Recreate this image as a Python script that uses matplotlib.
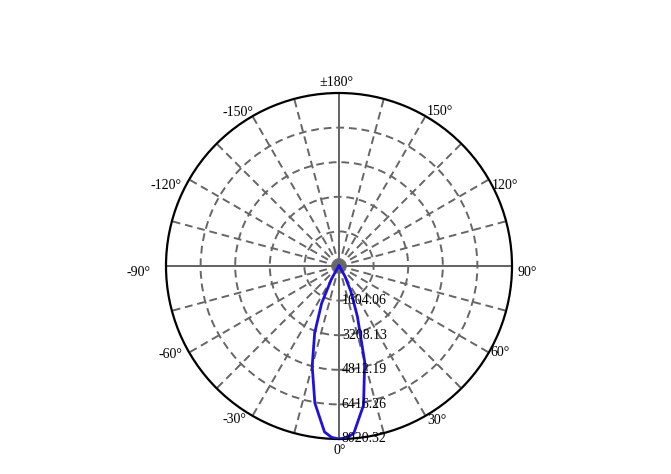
import numpy as np
import matplotlib
matplotlib.use("Agg")
import matplotlib.pyplot as plt

# light distribution, angle (deg) -> intensity
angles = [-180, -90, -45, -40, -35, -30, -25, -20, -15, -10, -5, -2.5, 0,
          2.5, 5, 10, 15, 20, 25, 30, 35, 40, 45, 90, 180]
intensity = [0, 0, 0, 20, 150, 700, 1900, 3300, 4800, 6450, 7720, 7950, 8020.32,
             7960, 7800, 6550, 4600, 2500, 1300, 550, 120, 20, 0, 0, 0]

r_max = 8020.32
r_ticks = [1604.06, 3208.13, 4812.19, 6416.26]
r_labels = ["1604.06", "3208.13", "4812.19", "6416.26", "8020.32"]
theta_grid = list(range(0, 360, 15))
theta_lab_pos = [0, 30, 60, 90, 120, 150, 180, 210, 240, 270, 300, 330]
theta_labels = ["0°", "30°", "60°", "90°", "120°", "150°",
                "±180°", "-150°", "-120°", "-90°", "-60°", "-30°"]
# label offsets from the rim, pixels (x right, y up)
lab_off = [(1, -12), (11, -5), (11, 0), (15, -6.5), (16, -6), (14.5, 4.5),
           (-3, 11), (-14.5, 4), (-23, -6), (-27, -7), (-18.5, -2), (-18, -4)]

plt.rcParams['font.family'] = ['Liberation Serif', 'DejaVu Serif']

fig = plt.figure(figsize=(6.71, 4.74), dpi=100)
ax = fig.add_axes([166 / 671, 35 / 474, 346 / 671, 346 / 474], projection='polar')
ax.set_theta_zero_location('S')
ax.set_theta_direction(1)

ax.set_ylim(0, r_max)
ax.set_yticks(r_ticks)
ax.set_yticklabels([])
ax.set_xticks(np.deg2rad(theta_grid))
ax.set_xticklabels([])
ax.grid(True, color='#666666', linestyle=(0, (4, 2.5)), linewidth=1.4)
ax.spines['polar'].set_color('black')
ax.spines['polar'].set_linewidth(1.6)

# main axes drawn solid
for a in [0, 90]:
    ax.plot(np.deg2rad([a, a + 180]), [r_max, r_max], color='#666666', lw=1.4)
    ax.plot(np.deg2rad([a, a]), [0, r_max], color='#666666', lw=1.4)
    ax.plot(np.deg2rad([a + 180, a + 180]), [0, r_max], color='#666666', lw=1.4)
ax.set_ylim(0, r_max)

th = np.deg2rad(angles)
ax.plot(th, intensity, color='#2010e0', lw=2, zorder=5)

for a, lab, off in zip(theta_lab_pos, theta_labels, lab_off):
    ax.annotate(lab, xy=(np.deg2rad(a), r_max), xytext=off, textcoords='offset pixels',
                ha='center', va='center', fontsize=10, annotation_clip=False)

# radial labels along the 0° direction
for r, lab in zip(r_ticks + [r_max], r_labels):
    ax.annotate(lab, xy=(0, r), xytext=(2, 0), textcoords='offset points',
                ha='left', va='center', fontsize=10, zorder=6, annotation_clip=False)

fig.savefig("out.png", dpi=100)
